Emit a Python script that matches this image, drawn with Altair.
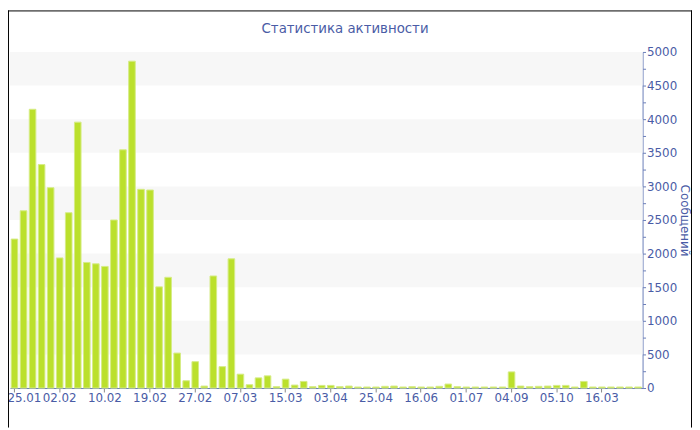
import altair as alt
import pandas as pd

# Data
values = [2216, 2637, 4147, 3324, 2980, 1936, 2608, 3956, 1868, 1848,
          1809, 2500, 3544, 4863, 2956, 2946, 1505, 1647, 520, 108,
          392, 29, 1667, 318, 1922, 206, 49, 151, 181, 20,
          132, 44, 98, 20, 39, 39, 20, 29, 15, 15,
          15, 25, 29, 15, 20, 15, 15, 25, 59, 20,
          15, 15, 15, 15, 15, 240, 29, 20, 25, 29,
          39, 39, 15, 98, 15, 15, 15, 15, 15, 15]
tick_labels = ["25.01", "02.02", "10.02", "19.02", "27.02", "07.03", "15.03",
               "03.04", "25.04", "16.06", "01.07", "04.09", "05.10", "16.03"]
tick_every = 5
band_lo = [500, 1500, 2500, 3500, 4500]
band_hi = [1000, 2000, 3000, 4000, 5000]
chart_title = "Статистика активности"
y_title = "Сообщений"

TEXT = "#4a5ca6"
AXIS = "#6a7db8"
FONT = "DejaVu Sans"

df = pd.DataFrame({"i": list(range(len(values))), "v": values})
bands = pd.DataFrame({"lo": band_lo, "hi": band_hi})
one = pd.DataFrame({"t": [chart_title]})

W, H = 640, 340
label_arr = "[" + ",".join("'%s'" % t for t in tick_labels) + "]"

y_scale = alt.Scale(domain=[0, 5000], nice=False)
y_axis = alt.Axis(orient="right", values=list(range(0, 5001, 250)),
                  labelExpr="datum.value % 500 == 0 ? datum.value : ''",
                  title=y_title, titleAngle=90, titleFont=FONT,
                  titleFontSize=12, titleFontWeight="normal", titleColor=TEXT,
                  titlePadding=1, labelFont=FONT, labelFontSize=12,
                  labelColor=TEXT, domainColor=AXIS, tickColor=AXIS,
                  tickSize=3, labelPadding=1, grid=False)

band_layer = alt.Chart(bands).mark_rect(color="#f7f7f7").encode(
    x=alt.value(0), x2=alt.value(W),
    y=alt.Y("lo:Q", scale=y_scale, axis=y_axis),
    y2="hi:Q",
)

bar_layer = alt.Chart(df).mark_bar(
    color="#bbe02c", stroke="#d6ec86", strokeWidth=1
).encode(
    x=alt.X("i:O", sort=None,
            scale=alt.Scale(paddingInner=0.27, paddingOuter=0.135),
            axis=alt.Axis(values=[k * tick_every for k in range(len(tick_labels))],
                          labelExpr=label_arr + "[datum.value/%d]" % tick_every,
                          labelOffset={"condition": {"test": "datum.value == 0", "value": 10},
                                       "value": 0},
                          labelAngle=0, title=None, labelFont=FONT, labelFontSize=12,
                          labelColor=TEXT, domainColor=AXIS, tickColor="#888888",
                          tickSize=4, labelPadding=1, grid=False)),
    y=alt.Y("v:Q", scale=y_scale, axis=y_axis),
)

title_layer = alt.Chart(one).mark_text(
    font=FONT, fontSize=13.5, color=TEXT, align="center", baseline="alphabetic",
    clip=False
).encode(text="t:N", x=alt.value(339), y=alt.value(-19))

border = alt.layer(
    alt.Chart(one).mark_rule(color="#000000", strokeWidth=1, clip=False).encode(
        x=alt.value(-1.5), y=alt.value(-42), y2=alt.value(380)),
    alt.Chart(one).mark_rule(color="#000000", strokeWidth=1, clip=False).encode(
        x=alt.value(-2), x2=alt.value(690), y=alt.value(-41.5)),
    alt.Chart(one).mark_rule(color="#000000", strokeWidth=1, clip=False).encode(
        x=alt.value(689.5), y=alt.value(-42), y2=alt.value(380)),
)

chart = alt.layer(band_layer, bar_layer, title_layer, border).properties(
    width=W, height=H,
    autosize=alt.AutoSizeParams(type="none"),
    padding={"left": 2, "top": 42, "right": 50, "bottom": 40},
).configure_view(stroke=None)

chart.save("out.html", embed_options={"renderer": "svg", "actions": False})
